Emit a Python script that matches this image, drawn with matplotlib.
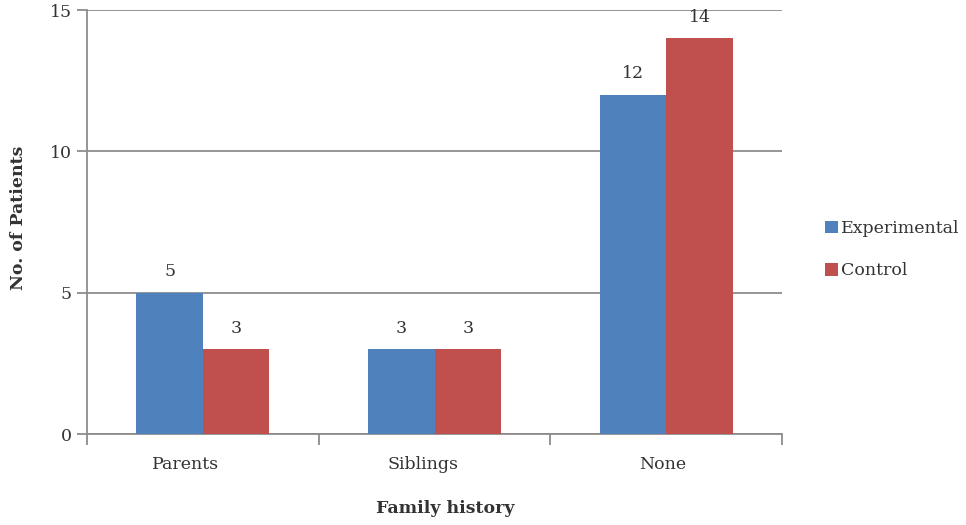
import matplotlib
matplotlib.use("Agg")
import matplotlib.pyplot as plt
import numpy as np

categories = ["Parents", "Siblings", "None"]
experimental = [5, 3, 12]
control = [3, 3, 14]
series_names = ["Experimental", "Control"]
y_ticks = [0, 5, 10, 15]

plt.rcParams["font.family"] = ["DejaVu Serif"]

BLUE = "#4F81BD"
RED = "#C0504D"
GRID = "#8C8C8C"
TEXT = "#333333"
FS = 12.5

fig = plt.figure(figsize=(9.66, 5.25), dpi=100)
ax = fig.add_axes([0.0901, 0.1733, 0.7195, 0.8076])

x = np.arange(len(categories))
w = 0.287
b1 = ax.bar(x - w / 2, experimental, w, color=BLUE, label=series_names[0], zorder=3)
b2 = ax.bar(x + w / 2, control, w, color=RED, label=series_names[1], zorder=3)

for bars, vals in ((b1, experimental), (b2, control)):
    for r, v in zip(bars, vals):
        ax.annotate(str(v), (r.get_x() + r.get_width() / 2, v),
                    xytext=(0, 9), textcoords="offset points",
                    ha="center", va="bottom", fontsize=FS, color=TEXT)

ax.set_xlim(-0.5, len(categories) - 0.5)
ax.set_ylim(0, 15)
ax.set_yticks(y_ticks)
ax.yaxis.grid(True, color=GRID, linewidth=1.3, zorder=0)
ax.set_axisbelow(True)

# category labels sit between the boundary ticks
ax.set_xticks(np.arange(len(categories) + 1) - 0.5)
ax.set_xticklabels([])
ax.set_xticks(x + np.array([-0.073, -0.05, -0.015]), minor=True)
ax.set_xticklabels(categories, minor=True)
ax.tick_params(axis="x", which="minor", length=0, pad=16, labelsize=FS, labelcolor=TEXT)
ax.tick_params(axis="x", which="major", length=8, width=1.3, color=GRID, direction="out")
ax.tick_params(axis="y", length=7, width=1.3, color=GRID, labelsize=FS, labelcolor=TEXT, pad=4)

for s in ("top", "right"):
    ax.spines[s].set_visible(False)
for s in ("left", "bottom"):
    ax.spines[s].set_color(GRID)
    ax.spines[s].set_linewidth(1.3)

ax.set_ylabel("No. of Patients", fontsize=FS, fontweight="bold", color=TEXT)
ax.yaxis.set_label_coords(-0.086, 0.51)
ax.set_xlabel("Family history", fontsize=FS, fontweight="bold", color=TEXT)
ax.xaxis.set_label_coords(0.516, -0.155)

leg = fig.legend(loc="upper left", bbox_to_anchor=(0.854, 0.581), frameon=False,
                 fontsize=FS, handlelength=0.75, handleheight=0.75,
                 handletextpad=0.15, labelspacing=1.47, borderpad=0, borderaxespad=0)
for t in leg.get_texts():
    t.set_color(TEXT)

fig.savefig("out.png", dpi=100)
